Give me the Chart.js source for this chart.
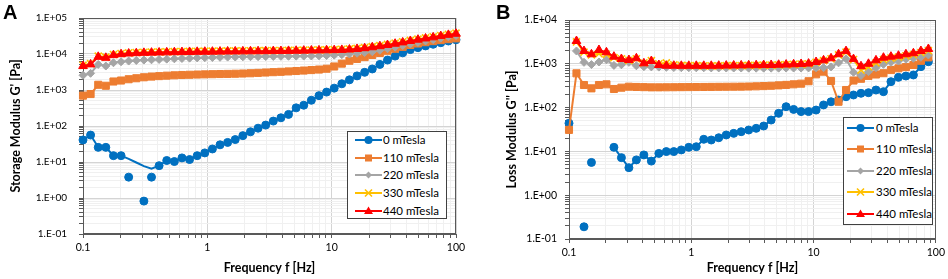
<!DOCTYPE html>
<html>
<head>
<meta charset="utf-8">
<script src="https://cdn.jsdelivr.net/npm/chart.js@4.4.0/dist/chart.umd.min.js"></script>
<style>
body{margin:0;background:#fff;width:948px;height:279px;position:relative;overflow:hidden;font-family:Lato,sans-serif}
canvas{position:absolute;top:0}
#ca{left:0}
#cb{left:470px}
.tag{position:absolute;font:bold 20px/20px "Liberation Sans",Arial,sans-serif;color:#000}
.leg{position:absolute;border:1px solid #404040;background:#fff;box-sizing:border-box}
.leg .it{position:absolute;left:0;height:14px;white-space:nowrap;font:11.5px/14px Lato,sans-serif;color:#000}
.leg svg{position:absolute;top:0}
.leg span{position:absolute;top:0}
</style>
</head>
<body>
<canvas id="ca" width="470" height="279"></canvas>
<canvas id="cb" width="478" height="279"></canvas>
<div class="tag" style="left:3px;top:2px">A</div>
<div class="tag" style="left:496px;top:2px">B</div>
<div class="leg" id="la" style="left:347px;top:131px;width:100px;height:88px"></div>
<div class="leg" id="lb" style="left:843px;top:117px;width:90px;height:108px"></div>
<script>
// frequency points (Hz)
var freq = [0.1, 0.1151, 0.1326, 0.1526, 0.1758, 0.2024, 0.2330, 0.2683, 0.3089, 0.3556,
  0.4095, 0.4715, 0.5429, 0.6251, 0.7197, 0.8287, 0.9541, 1.0985, 1.2649, 1.4563,
  1.6768, 1.9307, 2.2230, 2.5595, 2.9471, 3.3932, 3.9069, 4.4984, 5.1795, 5.9636,
  6.8665, 7.9060, 9.1029, 10.481, 12.068, 13.895, 15.999, 18.421, 21.210, 24.421,
  28.118, 32.375, 37.276, 42.919, 49.417, 56.899, 65.513, 75.431, 86.851, 100];

var seriesNames = ['0 mTesla', '110 mTesla', '220 mTesla', '330 mTesla', '440 mTesla'];

// A: storage modulus G' [Pa]
var g0A = [41, 56, 25.5, 25.5, 15, 15, 12.2, 9.7, 7.7, 6.5,
  7.9, 11, 10.3, 13, 11.7, 15, 17.9, 23, 30, 35,
  42, 54, 69, 87, 106, 137, 169, 210, 319, 378,
  519, 697, 875, 1127, 1486, 1914, 2466, 3097, 3837, 5140,
  6780, 8730, 10760, 13240, 15030, 16750, 18620, 20610, 22960, 24900];
var g0A_lineOnly = [6, 7, 8, 9];
var g0A_offIdx = [6, 8, 9];
var g0A_offVal = [3.8, 0.82, 3.8];
var g110A = [697, 772, 1397, 1312, 1722, 1834, 1991, 2120, 2258, 2360,
  2430, 2500, 2560, 2610, 2650, 2690, 2720, 2750, 2780, 2800,
  2830, 2870, 2920, 2990, 3060, 3130, 3200, 3280, 3370, 3470,
  3580, 3700, 3900, 4500, 5400, 6500, 7300, 8200, 9400, 10700,
  12300, 14000, 15800, 17800, 19600, 21300, 22800, 24300, 25800, 27200];
var g220A = [2565, 2910, 5140, 4630, 5710, 6090, 6360, 6610, 6780, 6900,
  7050, 7200, 7350, 7500, 7670, 7800, 7900, 7990, 8100, 8200,
  8250, 8340, 8400, 8450, 8510, 8550, 8600, 8650, 8700, 8750,
  8800, 8900, 9050, 9290, 9600, 10000, 10500, 11000, 11600, 12700,
  14000, 15500, 17200, 19000, 21000, 23000, 25000, 27500, 30000, 32500];
var g330A = [4850, 5400, 8700, 8200, 9700, 10300, 10700, 10950, 11150, 11300,
  11400, 11500, 11600, 11700, 11800, 11900, 11950, 12000, 12050, 12150,
  12200, 12250, 12300, 12350, 12400, 12450, 12500, 12600, 12700, 12800,
  12900, 13000, 13100, 13250, 13500, 13800, 14300, 15000, 16000, 17100,
  18400, 20000, 21800, 23800, 25900, 28000, 30000, 32500, 35200, 37800];
var g440A = [4630, 5140, 8340, 7840, 9290, 9900, 10290, 10540, 10760, 10900,
  11000, 11100, 11220, 11300, 11400, 11500, 11550, 11600, 11670, 11750,
  11800, 11850, 11900, 11950, 12000, 12050, 12100, 12200, 12300, 12400,
  12500, 12600, 12700, 12800, 13000, 13300, 13800, 14500, 15400, 16500,
  17800, 19300, 21000, 23000, 25000, 27000, 29000, 31500, 34000, 36500];

// B: loss modulus G'' [Pa]
var g0B = [null, null, null, null, null, null, 12.4, 7.2, 4.25, 6.4,
  8.3, 6.0, 9.0, 9.9, 9.9, 10.8, 12.4, 12.8, 18.9, 18.2,
  20.5, 23.7, 25.8, 28.2, 30.8, 33.6, 38, 52, 74, 105,
  91, 81, 81, 88, 115, 136, 149, 177, 194, 212,
  219, 252, 231, 391, 491, 526, 555, 861, 1117];
var g0B_offIdx = [0, 2, 3];
var g0B_offVal = [44, 0.19, 5.6];
var g110B = [31, 606, 328, 275, 328, 340, 266, 285, 300, 296,
  293, 290, 290, 291, 292, 293, 294, 295, 296, 297,
  298, 299, 300, 301, 303, 306, 310, 315, 322, 330,
  340, 352, 400, 575, 661, 405, 136, 252, 415, 455,
  530, 570, 610, 720, 789, 840, 940, 1170, 1400];
var g220B = [null, 1960, 1080, 960, 1100, 1240, 920, 950, 1080, 900,
  860, 850, 840, 830, 820, 815, 815, 810, 810, 805,
  805, 800, 800, 800, 795, 795, 795, 795, 795, 800,
  800, 800, 805, 810, 815, 850, 1050, 1300, 640, 540,
  661, 815, 973, 1081, 1158, 1268, 1336, 1407, 1590];
var g330B = [null, 3150, 1850, 1600, 1700, 1650, 1380, 1300, 1200, 1300,
  1050, 1180, 1000, 1050, 950, 920, 910, 905, 900, 900,
  900, 905, 910, 915, 920, 925, 930, 935, 945, 955,
  970, 985, 1000, 1080, 1180, 1300, 1600, 1850, 1250, 720,
  850, 1050, 1250, 1350, 1420, 1520, 1620, 1800, 2000];
var g440B = [null, 3315, 1960, 1648, 2065, 1830, 1455, 1288, 1221, 1336,
  1026, 1158, 939, 905, 905, 900, 900, 900, 900, 900,
  905, 910, 915, 920, 925, 930, 935, 940, 950, 960,
  975, 990, 1010, 1100, 1200, 1336, 1650, 1950, 1280, 880,
  1000, 1200, 1380, 1455, 1530, 1650, 1740, 1960, 2180];

var styles = [
  {color: '#0070C0', shape: 'circle', r: 4},
  {color: '#ED7D31', shape: 'rect', r: 5},
  {color: '#A5A5A5', shape: 'rectRot', r: 4},
  {color: '#FFC000', shape: 'crossRot', r: 5},
  {color: '#FF0000', shape: 'triangle', r: 5}
];

Chart.defaults.font.family = 'Lato';
Chart.defaults.color = '#000';

function isMajor(v) {
  var l = Math.log10(v);
  return Math.abs(l - Math.round(l)) < 1e-9;
}
function sciLabel(v) {
  var e = Math.round(Math.log10(v));
  return '1.E' + (e < 0 ? '-' : '+') + String(Math.abs(e)).padStart(2, '0');
}
function logTicks(scale) {
  var t = [];
  var e0 = Math.round(Math.log10(scale.min)), e1 = Math.round(Math.log10(scale.max));
  for (var e = e0; e < e1; e++) {
    for (var s = 1; s < 10; s++) t.push({value: s * Math.pow(10, e)});
  }
  t.push({value: scale.max});
  scale.ticks = t;
}

function pts(xs, ys) {
  return ys.map(function (v, i) { return {x: xs[i], y: v}; });
}

function makeSet(k, values, extra) {
  var s = styles[k];
  var d = {
    label: seriesNames[k],
    data: pts(freq, values),
    showLine: true,
    borderColor: s.color,
    backgroundColor: s.color,
    borderWidth: 2,
    pointStyle: s.shape,
    pointRadius: s.r,
    pointBorderWidth: s.shape === 'crossRot' ? 1.6 : 1,
    pointBackgroundColor: s.color,
    pointBorderColor: s.color,
    tension: 0,
    spanGaps: false,
    clip: 10,
    order: 5 - k
  };
  return Object.assign(d, extra || {});
}

function offSet(idx, vals) {
  var s = styles[0];
  return {
    label: 'off',
    data: idx.map(function (i, j) { return {x: freq[i], y: vals[j]}; }),
    showLine: false,
    pointStyle: 'circle',
    pointRadius: s.r,
    backgroundColor: s.color,
    borderColor: s.color,
    clip: 10,
    order: 6
  };
}

var frame = {
  id: 'frame',
  beforeDatasetsDraw: function (c) {
    var a = c.chartArea, ctx = c.ctx;
    ctx.save();
    ctx.strokeStyle = '#595959';
    ctx.lineWidth = 1;
    ctx.strokeRect(Math.round(a.left) + 0.5, Math.round(a.top) + 0.5, Math.round(a.width) - 1, Math.round(a.height) - 1);
    ctx.restore();
  }
};

function makeChart(id, sets, yMax, yTitle, box) {
  return new Chart(document.getElementById(id), {
    type: 'scatter',
    data: {datasets: sets},
    options: {
      responsive: false,
      animation: false,
      devicePixelRatio: 1,
      layout: {padding: {left: box.pl, right: box.pr, top: box.pt, bottom: 0}},
      plugins: {legend: {display: false}, tooltip: {enabled: false}},
      scales: {
        x: {
          type: 'logarithmic', min: 0.1, max: 100,
          afterBuildTicks: logTicks,
          afterFit: function (s) { s.height = box.xh; },
          ticks: {
            autoSkip: false, maxRotation: 0, padding: 3,
            font: {size: 10.5},
            callback: function (v) { return isMajor(v) ? (v < 1 ? '0.1' : String(Math.round(v))) : ''; }
          },
          grid: {
            color: function (c) { return c.tick && isMajor(c.tick.value) ? '#d4d4d4' : '#f0f0f0'; },
            tickLength: 4, tickColor: '#595959'
          },
          border: {color: '#595959'},
          title: {display: true, text: 'Frequency f [Hz]', font: {size: 12.5, weight: 'bold'}, padding: {top: 0, bottom: 4}}
        },
        y: {
          type: 'logarithmic', min: 0.1, max: yMax,
          afterBuildTicks: logTicks,
          afterFit: function (s) { s.width = box.yw; },
          ticks: {
            autoSkip: false, padding: box.tp,
            font: {size: box.yf},
            callback: function (v) { return isMajor(v) ? sciLabel(v) : ''; }
          },
          grid: {
            color: function (c) { return c.tick && isMajor(c.tick.value) ? '#d4d4d4' : '#f0f0f0'; },
            tickLength: 4, tickColor: '#595959'
          },
          border: {color: '#595959'},
          title: {display: true, text: yTitle, font: {size: 12.5, weight: 'bold'}, padding: {top: 4, bottom: 4}}
        }
      }
    },
    plugins: [frame]
  });
}

var radius0A = g0A.map(function (v, i) { return g0A_lineOnly.indexOf(i) >= 0 ? 0 : styles[0].r; });

makeChart('ca', [
  makeSet(0, g0A, {pointRadius: radius0A}),
  offSet(g0A_offIdx, g0A_offVal),
  makeSet(1, g110A),
  makeSet(2, g220A),
  makeSet(3, g330A),
  makeSet(4, g440A)
], 100000, "Storage Modulus G' [Pa]", {pl: 4, pr: 14, pt: 16, xh: 45, yw: 79, tp: 12, yf: 10});

makeChart('cb', [
  makeSet(0, g0B),
  offSet(g0B_offIdx, g0B_offVal),
  makeSet(1, g110B),
  makeSet(2, g220B),
  makeSet(3, g330B),
  makeSet(4, g440B)
], 10000, "Loss Modulus G'' [Pa]", {pl: 30, pr: 11, pt: 20, xh: 40, yw: 69, tp: 8, yf: 10.5});

function marker(s) {
  var c = s.color, cx = 13.5, cy = 7;
  if (s.shape === 'circle') return '<circle cx="' + cx + '" cy="' + cy + '" r="4" fill="' + c + '"/>';
  if (s.shape === 'rect') return '<rect x="' + (cx - 3.5) + '" y="' + (cy - 3.5) + '" width="7" height="7" fill="' + c + '"/>';
  if (s.shape === 'rectRot') return '<polygon points="' + cx + ',' + (cy - 3.5) + ' ' + (cx + 3.5) + ',' + cy + ' ' + cx + ',' + (cy + 3.5) + ' ' + (cx - 3.5) + ',' + cy + '" fill="' + c + '"/>';
  if (s.shape === 'crossRot') return '<path d="M' + (cx - 3.5) + ' ' + (cy - 3.5) + 'L' + (cx + 3.5) + ' ' + (cy + 3.5) + 'M' + (cx + 3.5) + ' ' + (cy - 3.5) + 'L' + (cx - 3.5) + ' ' + (cy + 3.5) + '" stroke="' + c + '" stroke-width="1.6"/>';
  return '<polygon points="' + cx + ',' + (cy - 4.5) + ' ' + (cx + 4.5) + ',' + (cy + 3) + ' ' + (cx - 4.5) + ',' + (cy + 3) + '" fill="' + c + '"/>';
}

function buildLegend(id, first, step, lx, tx) {
  var el = document.getElementById(id);
  var html = '';
  seriesNames.forEach(function (name, k) {
    var s = styles[k];
    html += '<div class="it" style="top:' + (first + k * step - 7) + 'px;width:100%">' +
      '<svg width="27" height="14" style="left:' + lx + 'px"><line x1="0" y1="7" x2="27" y2="7" stroke="' + s.color + '" stroke-width="2"/>' + marker(s) + '</svg>' +
      '<span style="left:' + tx + 'px">' + name + '</span></div>';
  });
  el.innerHTML = html;
}
buildLegend('la', 8, 17.7, 7, 35);
buildLegend('lb', 10, 21.4, 3, 32);
</script>
</body>
</html>
